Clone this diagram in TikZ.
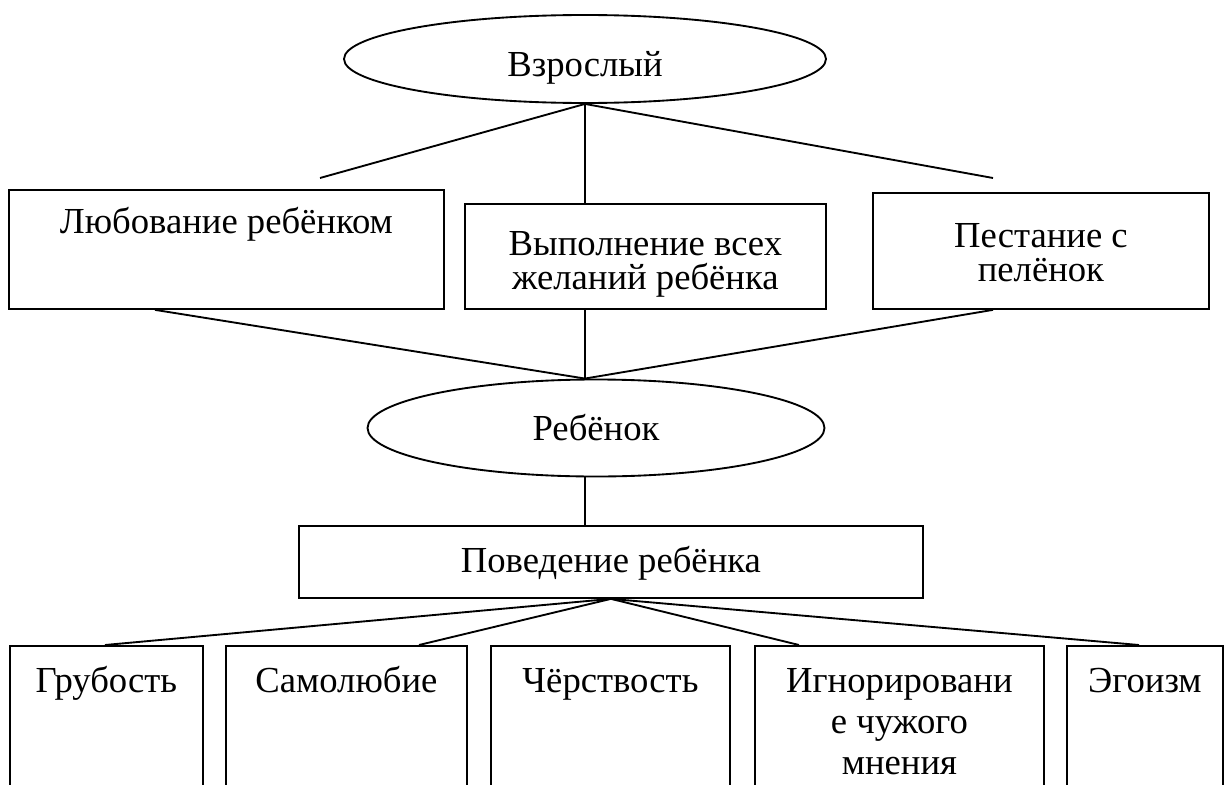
\documentclass[tikz,border=0pt]{standalone}
\usepackage{fontspec}
\setmainfont{Liberation Serif}
\usetikzlibrary{shapes.geometric}

% text block of a box: width, height, first baseline, line skip, text
\newcommand{\celltext}[5]{\parbox[c][#2][t]{#1}{\centering\fontsize{27.5pt}{#4}\selectfont\lineskiplimit=-50pt\rule{0pt}{#3}#5}}

\begin{document}
\begin{tikzpicture}[x=0.75pt, y=-0.75pt, line width=1.4pt,
    cell/.style={draw, rectangle, inner sep=0pt, anchor=north west},
    oval/.style={draw, ellipse, inner sep=0pt, font=\fontsize{27.5pt}{30pt}\selectfont}]
    \useasboundingbox (0,0) rectangle (1225,785);
    \clip (0,0) rectangle (1225,785);

    \node[oval, minimum width=361.5pt, minimum height=66pt, text height=25.5pt, text depth=0pt] (adult) at (585,59) {Взрослый};

    \node[cell] (admire) at (8,189) {\celltext{326.25pt}{89.25pt}{33pt}{25.5pt}{Любование ребёнком}};
    \node[cell] (want) at (464,203) {\celltext{270.75pt}{78.75pt}{39pt}{25.5pt}{Выполнение всех\\желаний ребёнка}};
    \node[cell] (nurse) at (872,192) {\celltext{252pt}{87pt}{41.25pt}{25pt}{Пестание с\\пелёнок}};

    \node[oval, minimum width=342.75pt, minimum height=72.75pt] (kid) at (596,428) {Ребёнок};

    \node[cell] (behav) at (298,525) {\celltext{468pt}{54pt}{35.25pt}{24pt}{Поведение ребёнка}};

    \node[cell] (rude) at (9,645) {\celltext{144.75pt}{150pt}{35.25pt}{30.4pt}{Грубость}};
    \node[cell] (self) at (225,645) {\celltext{180.75pt}{150pt}{35.25pt}{30.4pt}{Самолюбие}};
    \node[cell] (hard) at (490,645) {\celltext{179.25pt}{150pt}{35.25pt}{30.4pt}{Чёрствость}};
    \node[cell] (ignore) at (754,645) {\celltext{216.75pt}{150pt}{35.25pt}{30.4pt}{Игнорировани\\е чужого\\мнения}};
    \node[cell] (ego) at (1066,645) {\celltext{117pt}{150pt}{35.25pt}{30.4pt}{Эгоизм}};

    % adult to the three boxes
    \coordinate (u1) at (320,178);
    \coordinate (u3) at (993,178);
    \draw (adult.south) -- (u1);
    \draw (adult.south) -- (u3);
    \draw (adult.south) -- (adult.south |- want.north);

    % the three boxes to the child
    \coordinate (meet) at (adult.south |- kid.north);
    \coordinate (d1) at (155,0);
    \coordinate (d3) at (993,0);
    \draw (d1 |- admire.south) -- (meet);
    \draw (adult.south |- want.south) -- (meet);
    \draw (d3 |- nurse.south) -- (meet);

    \draw (adult.south |- kid.south) -- (adult.south |- behav.north);

    % behaviour to the traits
    \foreach \x/\n in {105/rude, 419/self, 799/ignore, 1139/ego} {
        \coordinate (t) at (\x,0);
        \draw (behav.south) -- (t |- \n.north);
    }
\end{tikzpicture}
\end{document}
